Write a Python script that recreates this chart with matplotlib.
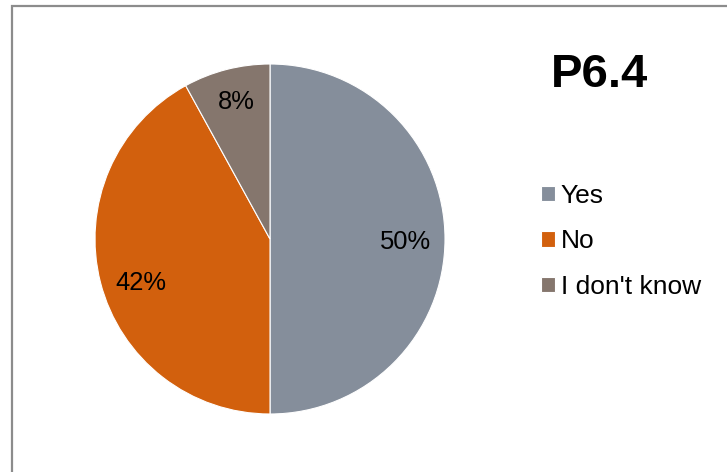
import matplotlib.pyplot as plt
from matplotlib.patches import Rectangle

plt.rcParams['font.family'] = ['Liberation Sans', 'DejaVu Sans']

labels = ['Yes', 'No', "I don't know"]
shares = [50, 42, 8]
colors = ['#858e9b', '#d2600d', '#85766d']
title = 'P6.4'
# data-label anchors (pie radius units), as placed by the "best fit" layout
label_pos = [(0.777, -0.017), (-0.737, -0.254), (-0.194, 0.783)]

W, H = 727, 472
fig = plt.figure(figsize=(W / 100, H / 100), dpi=100)

# outer frame, right and bottom edges fall outside the canvas
fig.patches.append(Rectangle((12 / W, -0.1), 1.2, 1 - 5.5 / H + 0.1,
                             transform=fig.transFigure, fill=False,
                             edgecolor='#8c8c8c', linewidth=1.6, zorder=0))

cx, cy, r = 270, 239, 175
ax = fig.add_axes([(cx - r) / W, (H - cy - r) / H, 2 * r / W, 2 * r / H])
wedges, _, autotexts = ax.pie(shares, colors=colors, startangle=90, counterclock=False,
                              autopct='%d%%', pctdistance=0.79, radius=1,
                              wedgeprops=dict(edgecolor='white', linewidth=0.8),
                              textprops=dict(fontsize=18.4, color='black'))
for t, p in zip(autotexts, label_pos):
    t.set_position(p)
ax.set_xlim(-1, 1)
ax.set_ylim(-1, 1)
ax.set_aspect('equal')

fig.text(600 / W, 1 - 75 / H, title, ha='center', va='center',
         fontsize=34, fontweight='bold')

fig.legend(wedges, labels, loc='upper left', bbox_to_anchor=(541 / W, 1 - 184 / H),
           frameon=False, fontsize=19, handlelength=0.53, handleheight=0.53,
           handletextpad=0.22, labelspacing=0.81, borderpad=0, borderaxespad=0)

fig.savefig('out.png', dpi=100)
